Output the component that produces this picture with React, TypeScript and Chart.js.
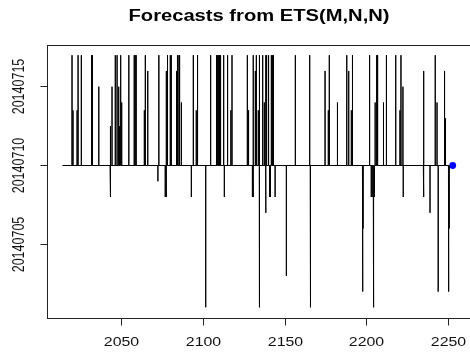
import React, { useEffect, useRef } from "react";
import { Chart, registerables } from "chart.js";

Chart.register(...registerables);

const TITLE = "Forecasts from ETS(M,N,N)";
// series level and time span
const baseLevel = 20140710;
const seriesStart = 2013.6;
const seriesEnd = 2250.6;
// times of the excursions away from the level, and the value reached at each
const spikeTimes = [
  2019.4, 2020.0, 2022.5, 2023.1, 2025.1, 2031.4, 2031.9, 2035.8, 2042.7, 2043.1,
  2043.9, 2045.9, 2047.0, 2048.0, 2048.4, 2049.2, 2049.6, 2050.0, 2054.2, 2057.5,
  2058.1, 2058.7, 2063.7, 2064.3, 2065.8, 2072.0, 2072.6, 2076.5, 2077.0, 2077.3,
  2077.9, 2079.6, 2080.2, 2083.4, 2084.0, 2084.9, 2085.3, 2086.4, 2092.5, 2093.7,
  2095.5, 2096.3, 2101.3, 2104.2, 2104.4, 2107.6, 2108.1, 2108.4, 2108.8, 2109.2,
  2109.8, 2110.4, 2112.3, 2112.7, 2114.7, 2116.7, 2117.4, 2126.8, 2127.3, 2127.7,
  2129.9, 2130.3, 2130.5, 2131.7, 2132.3, 2133.5, 2134.1, 2134.3, 2136.2, 2137.2,
  2138.0, 2138.2, 2138.6, 2139.8, 2140.4, 2140.9, 2141.5, 2141.9, 2142.3, 2142.8,
  2143.8, 2150.7, 2156.2, 2165.0, 2165.3, 2165.6, 2174.4, 2176.4, 2177.0, 2182.0,
  2187.7, 2188.9, 2190.5, 2191.2, 2197.3, 2197.6, 2197.7, 2201.7, 2202.7, 2203.3,
  2203.9, 2204.3, 2204.6, 2205.1, 2205.8, 2206.2, 2206.6, 2210.2, 2212.0, 2217.7,
  2220.3, 2220.9, 2222.1, 2222.3, 2234.6, 2234.8, 2235.0, 2238.7, 2241.9, 2243.0,
  2243.7, 2247.6, 2248.2, 2250.0, 2250.2, 2250.4,
];
const spikeValues = [
  20140717, 20140713.5, 20140713.5, 20140717, 20140717, 20140717, 20140717, 20140715, 20140708, 20140712.5,
  20140715, 20140717, 20140717, 20140715, 20140712.5, 20140717, 20140712.5, 20140714, 20140717, 20140717,
  20140717, 20140717, 20140713.5, 20140717, 20140716, 20140709, 20140717, 20140708, 20140708, 20140716,
  20140717, 20140717, 20140717, 20140716, 20140717, 20140717, 20140717, 20140714, 20140708, 20140717,
  20140713.5, 20140717, 20140701, 20140717, 20140713.5, 20140717, 20140716.5, 20140716.5, 20140717, 20140717,
  20140717, 20140717, 20140717, 20140708, 20140717, 20140713.5, 20140717, 20140717, 20140713.5, 20140713.5,
  20140708, 20140708, 20140717, 20140716, 20140717, 20140713.5, 20140717, 20140701, 20140717, 20140714,
  20140717, 20140707, 20140717, 20140717, 20140708, 20140708, 20140717, 20140717, 20140717, 20140717,
  20140708, 20140703, 20140717, 20140717, 20140701, 20140705.5, 20140716, 20140713.5, 20140717, 20140714,
  20140717, 20140716, 20140713.5, 20140717, 20140706, 20140702, 20140706, 20140717, 20140708, 20140708,
  20140708, 20140701, 20140708, 20140714, 20140717, 20140717, 20140717, 20140714, 20140717, 20140717,
  20140713.5, 20140717, 20140715, 20140708, 20140708, 20140716, 20140709, 20140707, 20140717, 20140714,
  20140702, 20140716, 20140713, 20140706, 20140702, 20140706,
];
const forecastTimes = [2252.6];
const forecastValues = [20140710];
const xTicks = [2050, 2100, 2150, 2200, 2250];
const yTicks = [20140705, 20140710, 20140715];
const yTickLabels = ["20140705", "20140710", "20140715"];

const STRETCH = 1.27;
const FONT = '"Liberation Sans", Arial, sans-serif';

function buildSeries() {
  const pts: { x: number; y: number }[] = [{ x: seriesStart, y: baseLevel }];
  spikeTimes.forEach((t, i) => {
    pts.push({ x: t, y: baseLevel });
    pts.push({ x: t, y: spikeValues[i] });
    pts.push({ x: t, y: baseLevel });
  });
  pts.push({ x: seriesEnd, y: baseLevel });
  return pts;
}

const rAxesPlugin = {
  id: "rAxes",
  afterDraw(chart: any) {
    const ctx = chart.ctx as CanvasRenderingContext2D;
    const { left, top, bottom, right } = chart.chartArea;
    const xs = chart.scales.x;
    const ys = chart.scales.y;
    ctx.save();
    ctx.strokeStyle = "#222";
    ctx.lineWidth = 1;
    ctx.strokeRect(left + 0.5, top + 0.5, right - left + 6, bottom - top);
    ctx.fillStyle = "#111";
    ctx.font = `12.5px ${FONT}`;
    ctx.textAlign = "center";
    ctx.textBaseline = "alphabetic";
    xTicks.forEach((t) => {
      const px = Math.floor(xs.getPixelForValue(t)) + 0.5;
      ctx.beginPath();
      ctx.moveTo(px, bottom + 0.5);
      ctx.lineTo(px, bottom + 7.5);
      ctx.stroke();
      ctx.save();
      ctx.translate(px, 346);
      ctx.scale(STRETCH, 1);
      ctx.fillText(String(t), 0, 0);
      ctx.restore();
    });
    yTicks.forEach((v, i) => {
      const py = Math.floor(ys.getPixelForValue(v)) + 0.5;
      ctx.beginPath();
      ctx.moveTo(left + 0.5, py);
      ctx.lineTo(left - 6.5, py);
      ctx.stroke();
      ctx.save();
      ctx.translate(24, py);
      ctx.scale(STRETCH, 1);
      ctx.rotate(-Math.PI / 2);
      ctx.fillText(yTickLabels[i], 0, 0);
      ctx.restore();
    });
    ctx.save();
    ctx.font = `bold 16px ${FONT}`;
    ctx.fillStyle = "#000";
    ctx.translate(259, 20.5);
    ctx.scale(1.26, 1);
    ctx.fillText(TITLE, 0, 0);
    ctx.restore();
    ctx.restore();
  },
};

export default function App() {
  const ref = useRef<HTMLCanvasElement | null>(null);
  useEffect(() => {
    document.body.style.margin = "0";
    const canvas = ref.current;
    if (!canvas) return;
    const chart = new Chart(canvas, {
      type: "line",
      data: {
        datasets: [
          {
            data: buildSeries(),
            borderColor: "#000",
            borderWidth: 1,
            pointRadius: 0,
            tension: 0,
            fill: false,
            borderJoinStyle: "bevel",
            borderCapStyle: "butt",
          },
          {
            data: forecastTimes.map((t, i) => ({ x: t, y: forecastValues[i] })),
            showLine: false,
            pointRadius: 3.4,
            pointBackgroundColor: "#0000ff",
            pointBorderColor: "#0000ff",
            borderWidth: 0,
          },
        ],
      },
      options: {
        responsive: false,
        animation: false,
        events: [],
        layout: { padding: { left: 47, top: 45, right: 0, bottom: 34 } },
        scales: {
          x: { type: "linear", min: 2004.07, max: 2260.74, display: false },
          y: { type: "linear", min: 20140700.324, max: 20140717.646, display: false },
        },
        plugins: { legend: { display: false }, tooltip: { enabled: false }, title: { display: false } },
      },
      plugins: [rAxesPlugin],
    });
    return () => chart.destroy();
  }, []);
  return (
    <div style={{ position: "fixed", left: 0, top: 0, width: 470, height: 352, background: "#fff", overflow: "hidden" }}>
      <canvas ref={ref} width={470} height={352} style={{ display: "block" }} />
    </div>
  );
}
